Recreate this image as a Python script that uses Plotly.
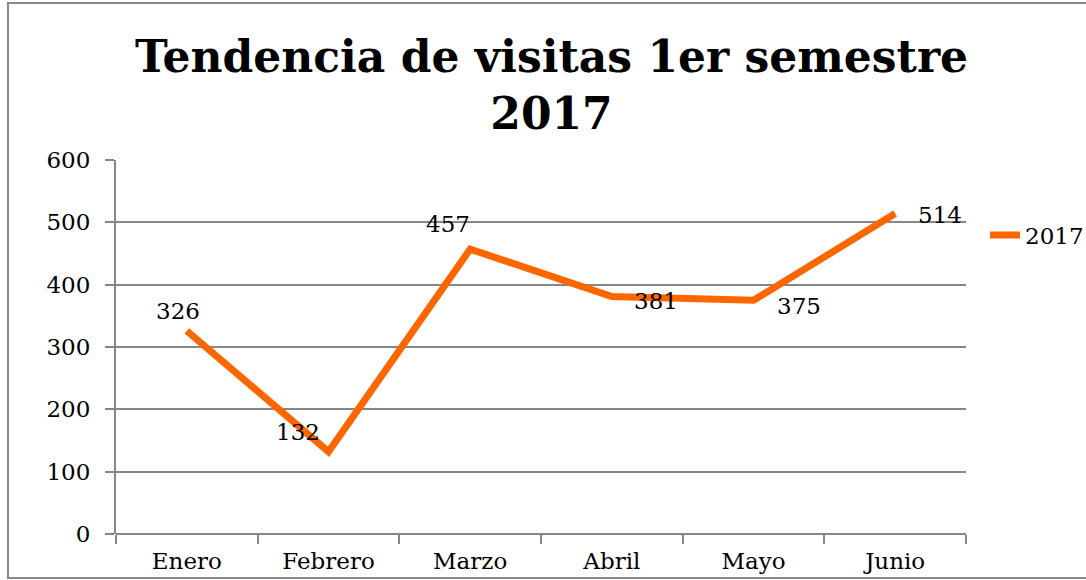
import plotly.graph_objects as go

months = ["Enero", "Febrero", "Marzo", "Abril", "Mayo", "Junio"]
visits_2017 = [326, 132, 457, 381, 375, 514]
series_name = "2017"
title_text = "Tendencia de visitas 1er semestre<br>2017"
y_ticks = [0, 100, 200, 300, 400, 500, 600]

# label offsets (pixels) for the data labels
label_dx = [-9, -31, -22, 44, 45, 45]
label_dy = [20, 20, 25, -4, -6, -1]

FONT = "DejaVu Serif"
ORANGE = "#FF6600"
GRAY = "#878787"
FS = 23

fig = go.Figure()
fig.add_trace(go.Scatter(
    x=months, y=visits_2017, mode="lines", name=series_name,
    line=dict(color=ORANGE, width=7), showlegend=True,
))

for m, v, dx, dy in zip(months, visits_2017, label_dx, label_dy):
    fig.add_annotation(x=m, y=v, text=str(v), showarrow=False,
                       xshift=dx, yshift=dy,
                       font=dict(family=FONT, size=FS, color="black"))

L, R, T, B = 116, 966, 160, 534
W, H = 1086, 580
pw, ph = R - L, B - T

def px(x):
    return (x - L) / pw

def py(y):
    return (B - y) / ph

fig.add_shape(type="rect", xref="paper", yref="paper",
              x0=px(8), x1=px(1095), y0=py(578), y1=py(3),
              line=dict(color=GRAY, width=2), fillcolor="rgba(0,0,0,0)", layer="below")

fig.update_layout(
    width=W, height=H,
    margin=dict(l=L, r=W - R, t=T, b=H - B, pad=0, autoexpand=False),
    paper_bgcolor="white", plot_bgcolor="white",
    title=dict(text="<b>" + title_text + "</b>", x=551.5 / W, xref="container", xanchor="center",
               y=1 - 72 / H, yanchor="middle",
               font=dict(family=FONT, size=44, color="black")),
    font=dict(family=FONT, size=FS, color="black"),
    legend=dict(xref="container", yref="container", x=985 / W, y=1 - 235 / H,
                xanchor="left", yanchor="middle",
                bgcolor="rgba(0,0,0,0)", font=dict(family=FONT, size=FS, color="black"),
                itemwidth=30, borderwidth=0),
    xaxis=dict(type="category", range=[-0.5, 5.5], showgrid=False, automargin=False,
               showline=False, zeroline=False,
               ticks="outside", ticklen=9, tickwidth=2, tickcolor=GRAY,
               tickson="boundaries", ticklabelstandoff=11,
               tickfont=dict(family=FONT, size=FS, color="black")),
    yaxis=dict(range=[0, 600], tickvals=y_ticks, showgrid=True, gridcolor=GRAY, gridwidth=2,
               automargin=False,
               showline=True, linecolor=GRAY, linewidth=2, zeroline=True,
               zerolinecolor=GRAY, zerolinewidth=2,
               ticks="outside", ticklen=9, tickwidth=2, tickcolor=GRAY,
               ticklabelstandoff=10,
               tickfont=dict(family=FONT, size=FS, color="black")),
)

fig.write_html("out.html", post_script="document.body.style.margin='0';",
               config={"displayModeBar": False})
